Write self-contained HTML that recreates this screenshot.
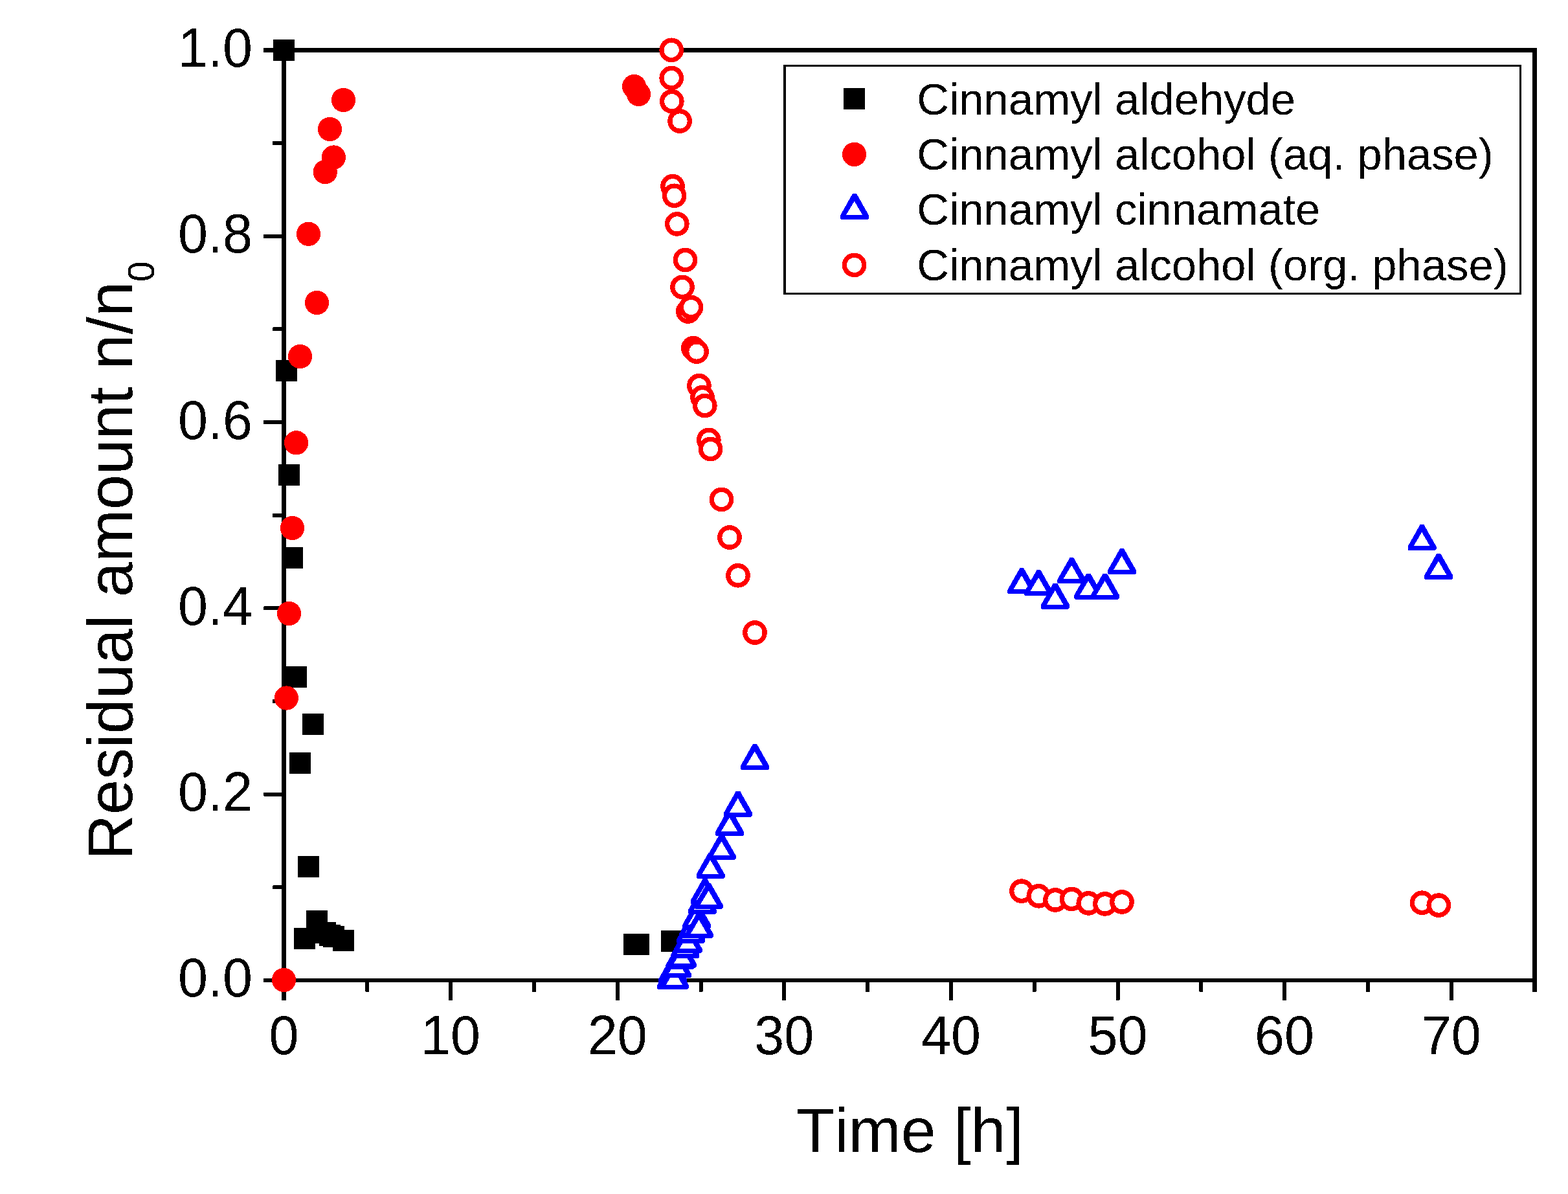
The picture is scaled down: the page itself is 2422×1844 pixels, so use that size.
<!DOCTYPE html>
<html lang="en"><head><meta charset="utf-8">
<style>
html,body{margin:0;padding:0;background:#fff;}
body{width:2422px;height:1844px;overflow:hidden;}
svg{display:block;}
text{font-family:"Liberation Sans",Arial,Helvetica,sans-serif;fill:#000;font-kerning:none;filter:url(#bw);}
.tk{font-size:82.7px;}
.lg{font-size:68.75px;}
.ti{font-size:97.2px;}
.sb{font-size:57.0px;}
.s{fill:#000;}
.c{fill:#f00;}
.o{fill:#fff;stroke:#f00;stroke-width:7.3;}
</style></head><body>
<svg width="2422" height="1844" viewBox="0 0 2422 1844" shape-rendering="crispEdges">
<rect width="2422" height="1844" fill="#fff"/>
<defs><filter id="bw" x="-5%" y="-20%" width="110%" height="140%" color-interpolation-filters="sRGB"><feComponentTransfer><feFuncA type="discrete" tableValues="0 1"/></feComponentTransfer></filter><g id="tr"><path fill="#00f" d="M-3-25H3L22 8.6V13L20 15H-20.5L-22 13.8V8.6Z"/><path fill="#fff" d="M-.3-13.5L12.2 8H-13Z"/></g></defs>
<g class="s" shape-rendering="crispEdges">
<rect x="435" y="74" width="1939" height="7"/>
<rect x="435" y="74" width="7" height="1470"/>
<rect x="2367" y="74" width="7" height="1457"/>
<rect x="408" y="1511" width="1966" height="6"/>
</g>
<g class="s">
<rect x="407" y="1511" width="31" height="6" rx="1.2"/>
<rect x="421" y="1367.35" width="17" height="6" rx="1.2"/>
<rect x="407" y="1223.7" width="31" height="6" rx="1.2"/>
<rect x="421" y="1080.05" width="17" height="6" rx="1.2"/>
<rect x="407" y="936.4" width="31" height="6" rx="1.2"/>
<rect x="421" y="792.75" width="17" height="6" rx="1.2"/>
<rect x="407" y="649.1" width="31" height="6" rx="1.2"/>
<rect x="421" y="505.45" width="17" height="6" rx="1.2"/>
<rect x="407" y="361.8" width="31" height="6" rx="1.2"/>
<rect x="421" y="218.15" width="17" height="6" rx="1.2"/>
<rect x="407" y="74" width="31" height="7" rx="1.2"/>
<rect x="435" y="1514" width="7" height="31.2" rx="1.2"/>
<rect x="564.3" y="1514" width="6" height="18" rx="1.2"/>
<rect x="693.1" y="1514" width="6" height="31.2" rx="1.2"/>
<rect x="821.9" y="1514" width="6" height="18" rx="1.2"/>
<rect x="950.7" y="1514" width="6" height="31.2" rx="1.2"/>
<rect x="1079.5" y="1514" width="6" height="18" rx="1.2"/>
<rect x="1208.3" y="1514" width="6" height="31.2" rx="1.2"/>
<rect x="1337.1" y="1514" width="6" height="18" rx="1.2"/>
<rect x="1465.9" y="1514" width="6" height="31.2" rx="1.2"/>
<rect x="1594.7" y="1514" width="6" height="18" rx="1.2"/>
<rect x="1723.5" y="1514" width="6" height="31.2" rx="1.2"/>
<rect x="1852.3" y="1514" width="6" height="18" rx="1.2"/>
<rect x="1981.1" y="1514" width="6" height="31.2" rx="1.2"/>
<rect x="2109.9" y="1514" width="6" height="18" rx="1.2"/>
<rect x="2238.7" y="1514" width="6" height="31.2" rx="1.2"/>
<rect x="2367" y="1514" width="7" height="18" rx="1.2"/>
</g>
<g class="tk" text-anchor="end">
<text transform="translate(390 1539.4) scale(1 1.035)">0.0</text>
<text transform="translate(390 1252.1) scale(1 1.035)">0.2</text>
<text transform="translate(390 964.8) scale(1 1.035)">0.4</text>
<text transform="translate(390 677.5) scale(1 1.035)">0.6</text>
<text transform="translate(390 390.2) scale(1 1.035)">0.8</text>
<text transform="translate(390 102.9) scale(1 1.035)">1.0</text>
</g>
<g class="tk" text-anchor="middle">
<text transform="translate(438.5 1628) scale(1 1.035)">0</text>
<text transform="translate(696.1 1628) scale(1 1.035)">10</text>
<text transform="translate(953.7 1628) scale(1 1.035)">20</text>
<text transform="translate(1211.3 1628) scale(1 1.035)">30</text>
<text transform="translate(1468.9 1628) scale(1 1.035)">40</text>
<text transform="translate(1726.5 1628) scale(1 1.035)">50</text>
<text transform="translate(1984.1 1628) scale(1 1.035)">60</text>
<text transform="translate(2241.7 1628) scale(1 1.035)">70</text>
</g>
<text class="ti" text-anchor="middle" x="1405.3" y="1779">Time [h]</text>
<text class="ti" style="font-size:97.4px" transform="translate(204 1328.4) rotate(-90)">Residual amount n/n<tspan class="sb" dy="34">0</tspan></text>
<g class="s"><rect x="422" y="61" width="33" height="33"/><rect x="426" y="556" width="33" height="33"/><rect x="430" y="716.8" width="33" height="33"/><rect x="434.9" y="844.9" width="33" height="33"/><rect x="440.9" y="1028.5" width="33" height="33"/><rect x="466.9" y="1102" width="33" height="33"/><rect x="446.9" y="1161.5" width="33" height="33"/><rect x="460" y="1321.9" width="33" height="33"/><rect x="454" y="1432.9" width="33" height="33"/><rect x="473" y="1406" width="33" height="33"/><rect x="485.9" y="1423.8" width="33" height="33"/><rect x="492.9" y="1427.9" width="33" height="33"/><rect x="498.9" y="1429.9" width="33" height="33"/><rect x="514" y="1435.9" width="33" height="33"/><rect x="963.1" y="1442" width="33" height="33"/><rect x="969.9" y="1442" width="33" height="33"/><rect x="1021" y="1437" width="33" height="33"/></g>
<g class="c"><circle cx="438.5" cy="1513.5" r="18.65"/><circle cx="442.4" cy="1078" r="18.65"/><circle cx="446.5" cy="947.5" r="18.65"/><circle cx="451.5" cy="815.4" r="18.65"/><circle cx="457.6" cy="683.8" r="18.65"/><circle cx="463.6" cy="550.5" r="18.65"/><circle cx="489.5" cy="467.5" r="18.65"/><circle cx="476.5" cy="361.3" r="18.65"/><circle cx="502.3" cy="265.6" r="18.65"/><circle cx="515.4" cy="243" r="18.65"/><circle cx="509.5" cy="199.4" r="18.65"/><circle cx="530.5" cy="154.4" r="18.65"/><circle cx="979.6" cy="133.6" r="18.65"/><circle cx="986.5" cy="145.5" r="18.65"/></g>
<g><use href="#tr" x="1036.9" y="1513.1"/><use href="#tr" x="1039.1" y="1503.5"/><use href="#tr" x="1041.85" y="1513"/><use href="#tr" x="1045.9" y="1495.4"/><use href="#tr" x="1050.1" y="1482.1"/><use href="#tr" x="1054" y="1479.9"/><use href="#tr" x="1058.4" y="1465.4"/><use href="#tr" x="1062.8" y="1457"/><use href="#tr" x="1067.2" y="1441.8"/><use href="#tr" x="1070.8" y="1434"/><use href="#tr" x="1076.2" y="1419.5"/><use href="#tr" x="1079.9" y="1434"/><use href="#tr" x="1084.8" y="1397"/><use href="#tr" x="1089" y="1381.5"/><use href="#tr" x="1094.8" y="1389"/><use href="#tr" x="1097.5" y="1341.8"/><use href="#tr" x="1114.7" y="1313"/><use href="#tr" x="1127" y="1276"/><use href="#tr" x="1140" y="1246.6"/><use href="#tr" x="1166" y="1174"/><use href="#tr" x="1578.3" y="902.4"/><use href="#tr" x="1604.4" y="905.4"/><use href="#tr" x="1630" y="925.5"/><use href="#tr" x="1655.4" y="886.4"/><use href="#tr" x="1681.3" y="910.5"/><use href="#tr" x="1706.9" y="910.5"/><use href="#tr" x="1733" y="872.3"/><use href="#tr" x="2196.5" y="835.4"/><use href="#tr" x="2222.2" y="880"/></g>
<g class="o"><circle cx="1037.2" cy="77.3" r="15.2"/><circle cx="1037.2" cy="120.5" r="15.2"/><circle cx="1037.8" cy="156.6" r="15.2"/><circle cx="1039" cy="287.6" r="15.2"/><circle cx="1041.6" cy="302.3" r="15.2"/><circle cx="1045.8" cy="345.9" r="15.2"/><circle cx="1050.1" cy="187" r="15.2"/><circle cx="1054" cy="443.4" r="15.2"/><circle cx="1058.5" cy="401.5" r="15.2"/><circle cx="1062.8" cy="481" r="15.2"/><circle cx="1067.5" cy="474.6" r="15.2"/><circle cx="1070.8" cy="537.7" r="15.2"/><circle cx="1076" cy="543.1" r="15.2"/><circle cx="1079.9" cy="595.7" r="15.2"/><circle cx="1085" cy="613.6" r="15.2"/><circle cx="1088.8" cy="626.5" r="15.2"/><circle cx="1094.8" cy="679.4" r="15.2"/><circle cx="1097.5" cy="693.5" r="15.2"/><circle cx="1114.5" cy="771.4" r="15.2"/><circle cx="1127" cy="830" r="15.2"/><circle cx="1140" cy="888.8" r="15.2"/><circle cx="1166" cy="977" r="15.2"/><circle cx="1578" cy="1376.2" r="15.2"/><circle cx="1604.3" cy="1383.8" r="15.2"/><circle cx="1630" cy="1389.9" r="15.2"/><circle cx="1655.4" cy="1388.4" r="15.2"/><circle cx="1681.3" cy="1394.9" r="15.2"/><circle cx="1706.9" cy="1395.9" r="15.2"/><circle cx="1733" cy="1392.9" r="15.2"/><circle cx="2196.5" cy="1394.2" r="15.2"/><circle cx="2222.3" cy="1398.1" r="15.2"/></g>
<rect x="1210" y="100" width="1140" height="355" fill="#000" shape-rendering="crispEdges"/>
<rect x="1214" y="103" width="1133" height="349" fill="#fff" shape-rendering="crispEdges"/>
<g class="s"><rect x="1303.1" y="135.9" width="33" height="33"/></g>
<g class="c"><circle cx="1319.6" cy="238.4" r="18.65"/></g>
<use href="#tr" x="1320" y="324"/>
<g class="o"><circle cx="1319.6" cy="409.4" r="15.2"/></g>
<g class="lg">
<text x="1416.3" y="176.5">Cinnamyl aldehyde</text>
<text x="1416.3" y="262">Cinnamyl alcohol (aq. phase)</text>
<text x="1416.3" y="347.4">Cinnamyl cinnamate</text>
<text x="1416.3" y="432.9">Cinnamyl alcohol (org. phase)</text>
</g>
</svg></body></html>
